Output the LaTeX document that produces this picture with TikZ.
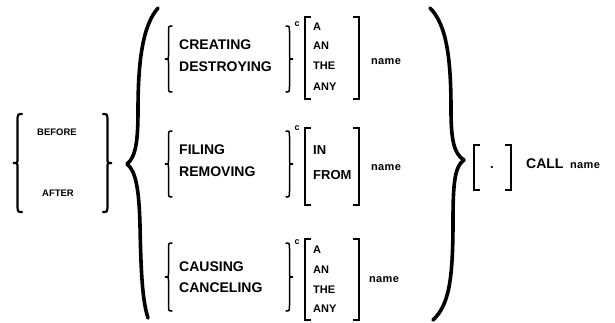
\documentclass[tikz,border=0pt]{standalone}
\usepackage{fontspec}
\newfontfamily\kwfont[LetterSpace=3]{Liberation Sans}
\newfontfamily\tightfont{Liberation Sans}
\newcommand{\kwsize}[1]{\kwfont\bfseries\fontsize{#1}{#1}\selectfont}
\newcommand{\tightsize}[1]{\tightfont\bfseries\fontsize{#1}{#1}\selectfont}

% left curly brace: ends at x=#1, from y=#2 to y=#3, depth #4
\newcommand{\curlyL}[4]{%
  \pgfmathsetmacro{\cm}{(#2+#3)/2}%
  \pgfmathsetmacro{\cs}{#1-#4/2}%
  \pgfmathsetmacro{\ct}{#1-#4}%
  \draw (#1,#2) .. controls (\cs,#2) .. (\cs,#2+#4)
        -- (\cs,\cm-#4/2) .. controls (\cs,\cm) .. (\ct,\cm)
        .. controls (\cs,\cm) .. (\cs,\cm+#4/2)
        -- (\cs,#3-#4) .. controls (\cs,#3) .. (#1,#3);}
% right curly brace: ends at x=#1, from y=#2 to y=#3, depth #4
\newcommand{\curlyR}[4]{%
  \pgfmathsetmacro{\cm}{(#2+#3)/2}%
  \pgfmathsetmacro{\cs}{#1+#4/2}%
  \pgfmathsetmacro{\ct}{#1+#4}%
  \draw (#1,#2) .. controls (\cs,#2) .. (\cs,#2+#4)
        -- (\cs,\cm-#4/2) .. controls (\cs,\cm) .. (\ct,\cm)
        .. controls (\cs,\cm) .. (\cs,\cm+#4/2)
        -- (\cs,#3-#4) .. controls (\cs,#3) .. (#1,#3);}
% square brackets
\newcommand{\sqL}[3]{\draw (#1+6,#2) -- (#1,#2) -- (#1,#3) -- (#1+6,#3);}
\newcommand{\sqR}[3]{\draw (#1-6,#2) -- (#1,#2) -- (#1,#3) -- (#1-6,#3);}

\begin{document}
\begin{tikzpicture}[x=1pt,y=-1pt,
  kw/.style={font=\tightsize{14}, anchor=west, inner sep=0pt},
  smallkw/.style={font=\tightsize{9.5}, anchor=center, inner sep=0pt},
  art/.style={font=\tightsize{11}, anchor=west, inner sep=0pt},
  prep/.style={font=\tightsize{13}, anchor=west, inner sep=0pt},
  nm/.style={font=\kwsize{11}, anchor=west, inner sep=0pt},
  supc/.style={font=\tightsize{9}, anchor=center, inner sep=0pt},
  smallbrace/.style={line width=1.5pt, line cap=round},
  outerbrace/.style={line width=2.2pt, line cap=round},
  bigbrace/.style={line width=3.6pt, line cap=round, line join=round},
  bracket/.style={line width=1.8pt}]
\useasboundingbox (0,0) rectangle (615,322);

% BEFORE / AFTER
\begin{scope}[outerbrace]
  \curlyL{22}{114}{212}{9}
  \curlyR{103}{114}{212}{9}
\end{scope}
\node[smallkw] (before) at (57,132) {BEFORE};
\node[smallkw] (after) at (58,193) {AFTER};

% large braces around the three alternatives
\draw[bigbrace] (158,8) .. controls (143,25) and (138,60) .. (138,110)
  .. controls (138,140) and (136,157) .. (127,164)
  .. controls (136,171) and (139,190) .. (140,225)
  .. controls (141,280) and (143,302) .. (148,318);
\draw[bigbrace] (430,8) .. controls (447,25) and (451,60) .. (451,110)
  .. controls (451,140) and (454,154) .. (464,160)
  .. controls (455,166) and (453,182) .. (453,220)
  .. controls (453,280) and (449,305) .. (433,320);

% first alternative
\begin{scope}[smallbrace]
  \curlyL{172}{26}{92}{7}
  \curlyR{286}{26}{92}{7}
\end{scope}
\node[kw] (creating) at (179,45) {CREATING};
\node[kw] (destroying) at (179,67) {DESTROYING};
\node[supc] (c1) at (297,24) {c};
\begin{scope}[bracket]
  \sqL{305}{17}{99}
  \sqR{359}{17}{99}
\end{scope}
\node[art] (a1) at (313,27) {A};
\node[art] (an1) at (313,46) {AN};
\node[art] (the1) at (313,66) {THE};
\node[art] (any1) at (313,87) {ANY};
\node[nm] (name1) at (371,62) {name};

% second alternative
\begin{scope}[smallbrace]
  \curlyL{172}{131}{197}{7}
  \curlyR{286}{131}{197}{7}
\end{scope}
\node[kw] (filing) at (179,150) {FILING};
\node[kw] (removing) at (179,172) {REMOVING};
\node[supc] (c2) at (297,128) {c};
\begin{scope}[bracket]
  \sqL{305}{128}{205}
  \sqR{359}{128}{205}
\end{scope}
\node[prep] (in) at (313,150) {IN};
\node[prep] (from) at (313,175) {FROM};
\node[nm] (name2) at (371,168) {name};

% third alternative
\begin{scope}[smallbrace]
  \curlyL{172}{243}{311}{7}
  \curlyR{286}{243}{311}{7}
\end{scope}
\node[kw] (causing) at (179,267) {CAUSING};
\node[kw] (canceling) at (179,288) {CANCELING};
\node[supc] (c3) at (297,242) {c};
\begin{scope}[bracket]
  \sqL{305}{239}{320}
  \sqR{359}{239}{320}
\end{scope}
\node[art] (a3) at (313,250) {A};
\node[art] (an3) at (313,270) {AN};
\node[art] (the3) at (313,290) {THE};
\node[art] (any3) at (313,309) {ANY};
\node[nm] (name3) at (369,280) {name};

% optional period and CALL clause
\begin{scope}[bracket]
  \sqL{474}{145}{190}
  \sqR{511}{145}{190}
\end{scope}
\node[font=\tightsize{13}, inner sep=0pt] (dot) at (492,168) {.};
\node[kw] (call) at (526,164) {CALL};
\node[nm] (name4) at (570,166) {name};
\end{tikzpicture}
\end{document}
